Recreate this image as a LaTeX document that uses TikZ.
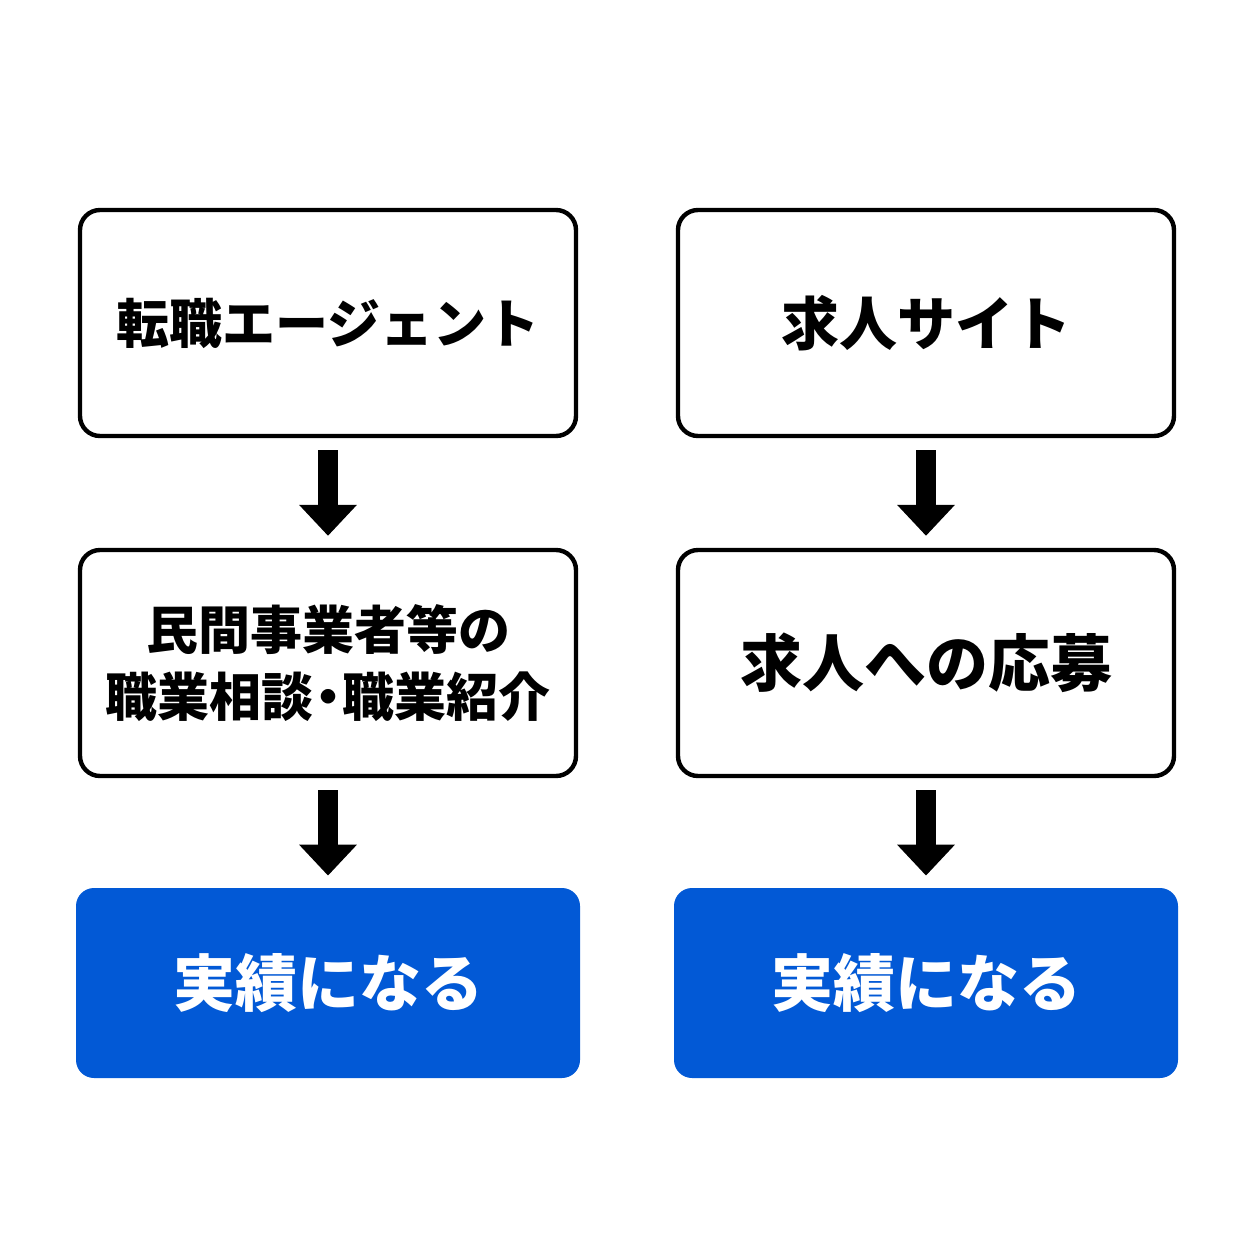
\documentclass[tikz,border=0pt]{standalone}
\usepackage{fontspec}
\newfontfamily\cjk{Noto Sans CJK JP}[BoldFont={Noto Sans CJK JP Black}]
\usetikzlibrary{arrows.meta}
\definecolor{accent}{HTML}{0259D6}
\tikzset{
  stepbox/.style={draw=black, line width=2.2pt, rounded corners=10pt, fill=white,
    minimum width=248pt, minimum height=113pt, align=center, font=\cjk\bfseries},
  goalbox/.style={fill=accent, rounded corners=9pt, text=white,
    minimum width=252pt, minimum height=95pt, align=center, font=\cjk\bfseries\fontsize{31pt}{36pt}\selectfont},
  flow/.style={line width=10pt, -{Triangle[width=28pt,length=15.5pt]}, shorten <=6pt, shorten >=6pt}
}
\begin{document}
\begin{tikzpicture}[x=0.5pt,y=-0.5pt]
\useasboundingbox (0,0) rectangle (1254,1254);
\node[stepbox, font=\cjk\bfseries\fontsize{26.5pt}{30pt}\selectfont] (a1) at (328,323) {転職エージェント};
\node[stepbox, font=\cjk\bfseries\fontsize{26pt}{33.5pt}\selectfont] (a2) at (328,663) {民間事業者等の\\職業相談\kern-0.22em・\kern-0.22em職業紹介};
\node[goalbox] (a3) at (328,983) {実績になる};
\node[stepbox, font=\cjk\bfseries\fontsize{29pt}{33pt}\selectfont] (b1) at (926,323) {求人サイト};
\node[stepbox, font=\cjk\bfseries\fontsize{31pt}{35pt}\selectfont] (b2) at (926,663) {求人への応募};
\node[goalbox] (b3) at (926,983) {実績になる};
\draw[flow] (a1.south) -- (a2.north);
\draw[flow] (a2.south) -- (a3.north);
\draw[flow] (b1.south) -- (b2.north);
\draw[flow] (b2.south) -- (b3.north);
\end{tikzpicture}
\end{document}
